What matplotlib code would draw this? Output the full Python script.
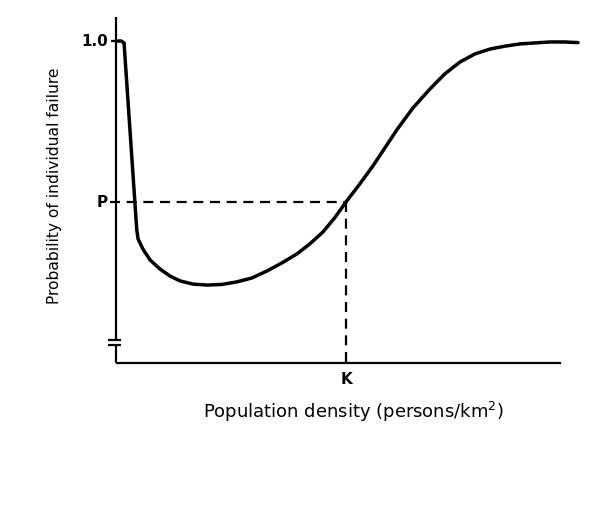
import matplotlib
matplotlib.use('Agg')
import matplotlib.pyplot as plt

# Data (x: density in units of K, y: probability of failure)
density = [0.0, 0.022, 0.035, 0.090, 0.096, 0.117, 0.148, 0.191, 0.235, 0.278,
           0.335, 0.396, 0.461, 0.526, 0.591, 0.657, 0.722, 0.787, 0.843, 0.900,
           0.952, 1.0, 1.061, 1.117, 1.170, 1.222, 1.291, 1.365, 1.430, 1.496,
           1.561, 1.626, 1.691, 1.757, 1.822, 1.887, 1.952, 2.009]
prob = [1.0, 1.0, 0.994, 0.416, 0.385, 0.354, 0.320, 0.292, 0.270, 0.255,
        0.245, 0.242, 0.244, 0.252, 0.264, 0.286, 0.311, 0.339, 0.370, 0.407,
        0.452, 0.5, 0.557, 0.612, 0.669, 0.725, 0.792, 0.851, 0.898, 0.935,
        0.960, 0.975, 0.984, 0.991, 0.994, 0.997, 0.997, 0.995]
K = 1.0
P = 0.5
ytick_labels = ["1.0", "P"]
xtick_labels = ["K"]

fig = plt.figure(figsize=(6.07, 5.10), dpi=100)
ax = fig.add_axes([116/607, (510-364)/510, (600-116)/607, (364-10)/510])
ax.set_xlim(0, 484/230)
ax.set_ylim(0, 354/322)
ax.axis('off')

px = 1/230.0   # one pixel in x data units
py = 1/322.0   # one pixel in y data units
lw_ax = 1.6
kw = dict(color='black', clip_on=False, solid_capstyle='butt')

# y axis with break
yb_lo = 18*py
yb_hi = 23*py
ax.plot([0, 0], [0, yb_lo], lw=lw_ax, **kw)
ax.plot([0, 0], [yb_hi, 346*py], lw=lw_ax, **kw)
ax.plot([-8*px, 5*px], [yb_lo, yb_lo], lw=lw_ax, **kw)
ax.plot([-8*px, 5*px], [yb_hi, yb_hi], lw=lw_ax, **kw)
# x axis
ax.plot([0, 445*px], [0, 0], lw=lw_ax, **kw)
# tick at 1.0
ax.plot([-5*px, 0], [1.0, 1.0], lw=lw_ax, **kw)

# dashed guide lines
ax.plot([-6*px, K], [P, P], color='black', lw=1.6, ls=(0, (4.5, 3)), clip_on=False)
ax.plot([K, K], [P, 0], color='black', lw=1.6, ls=(0, (4.5, 3)), clip_on=False)

# curve
ax.plot(density, prob, color='black', lw=2.5, solid_capstyle='round',
        solid_joinstyle='round', clip_on=False)

font = 'DejaVu Sans'
ax.text(-8*px, 1.0, ytick_labels[0], ha='right', va='center', fontsize=11,
        family=font, fontweight='bold')
ax.text(-8*px, P, ytick_labels[1], ha='right', va='center', fontsize=11,
        family=font, fontweight='bold')
ax.text(K, -16*py, xtick_labels[0], ha='center', va='center', fontsize=11,
        family=font, fontweight='bold')

ax.text(-61*px, (364-186)*py, "Probability of individual failure", rotation=90,
        ha='center', va='center', fontsize=11.2, family=font)
ax.text(237*px, -48*py, "Population density (persons/km$^2$)",
        ha='center', va='center', fontsize=13, family=font)

fig.savefig('out.png', dpi=100, facecolor='white')
